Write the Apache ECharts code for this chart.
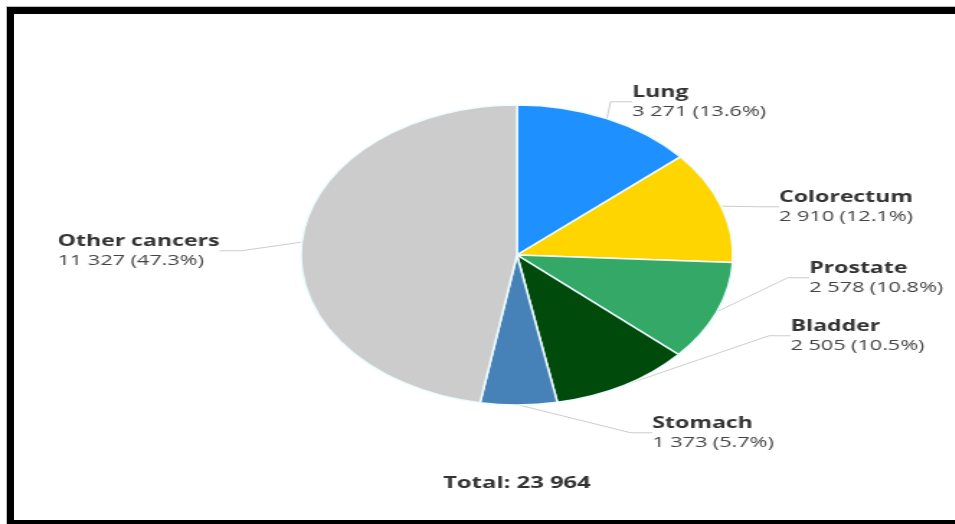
<!DOCTYPE html>
<html>
<head>
<meta charset="utf-8">
<script src="https://cdn.jsdelivr.net/npm/echarts@6/dist/echarts.min.js"></script>
<style>
  html, body { margin: 0; padding: 0; background: #ffffff; overflow: hidden; width: 955px; height: 524px; }
  #wrap { position: absolute; left: 0; top: 0; width: 955px; height: 524px; overflow: hidden; background: #fff; }
  #chart { position: absolute; left: 0; top: 0; width: 663px; height: 524px; transform: scaleX(1.44); transform-origin: 0 0; }
  .bar { position: absolute; background: #000; pointer-events: none; }
  .gl { position: absolute; background: #bbb; pointer-events: none; }
</style>
</head>
<body>
<div id="wrap">
  <div id="chart"></div>
  <div class="gl" style="left:6px;top:6px;width:949px;height:1px;"></div>
  <div class="gl" style="left:6px;top:6px;width:1px;height:518px;"></div>
  <div class="bar" style="left:7px;top:7px;width:948px;height:7px;"></div>
  <div class="bar" style="left:7px;top:7px;width:7px;height:517px;"></div>
  <div class="bar" style="left:7px;top:520px;width:948px;height:4px;"></div>
</div>
<script>
// ---- data ----
const categories = ['Lung', 'Colorectum', 'Prostate', 'Bladder', 'Stomach', 'Other cancers'];
const values = [3271, 2910, 2578, 2505, 1373, 11327];
const colors = ['#1e90ff', '#ffd500', '#33a867', '#004a0c', '#4682b8', '#cccccc'];

// ---- label placement (container coords, before horizontal stretch) ----
const labelPos = [
  [439, 82], [541, 187], [562, 258], [549, 316], [453, 413], [40, 231]
];

const total = values.reduce((a, b) => a + b, 0);
function fmt(n) { return String(n).replace(/\B(?=(\d{3})+(?!\d))/g, ' '); }

const chart = echarts.init(document.getElementById('chart'), null, { renderer: 'canvas', width: 663, height: 524 });
chart.setOption({
  animation: false,
  textStyle: { fontFamily: 'Open Sans' },
  series: [{
    type: 'pie',
    center: [359, 255],
    radius: 150,
    startAngle: 90,
    clockwise: true,
    avoidLabelOverlap: false,
    data: categories.map((c, i) => ({ name: c, value: values[i], itemStyle: { color: colors[i] } })),
    itemStyle: { borderColor: '#eefcff', borderWidth: 1.5 },
    label: {
      show: true,
      position: 'outside',
      formatter: p => '{n|' + p.name + '}\n{v|' + fmt(p.value) + ' (' + (p.value / total * 100).toFixed(1) + '%)}',
      rich: {
        n: { fontFamily: 'Open Sans', fontWeight: 'bold', fontSize: 16, color: '#333', lineHeight: 20 },
        v: { fontFamily: 'Open Sans', fontSize: 15, color: '#444', lineHeight: 20 }
      }
    },
    labelLine: { show: true, length: 12, length2: 15, lineStyle: { color: '#cccccc', width: 1 } },
    labelLayout: function (params) {
      const p = labelPos[params.dataIndex];
      return { x: p[0], y: p[1], align: 'left', verticalAlign: 'top' };
    },
    emphasis: { disabled: true }
  }],
  graphic: [{
    type: 'text',
    x: 359,
    y: 483,
    style: {
      text: 'Total: ' + fmt(total),
      fontFamily: 'Open Sans', fontWeight: 'bold', fontSize: 16.5, fill: '#333',
      align: 'center', verticalAlign: 'middle'
    }
  }]
});
</script>
</body>
</html>
